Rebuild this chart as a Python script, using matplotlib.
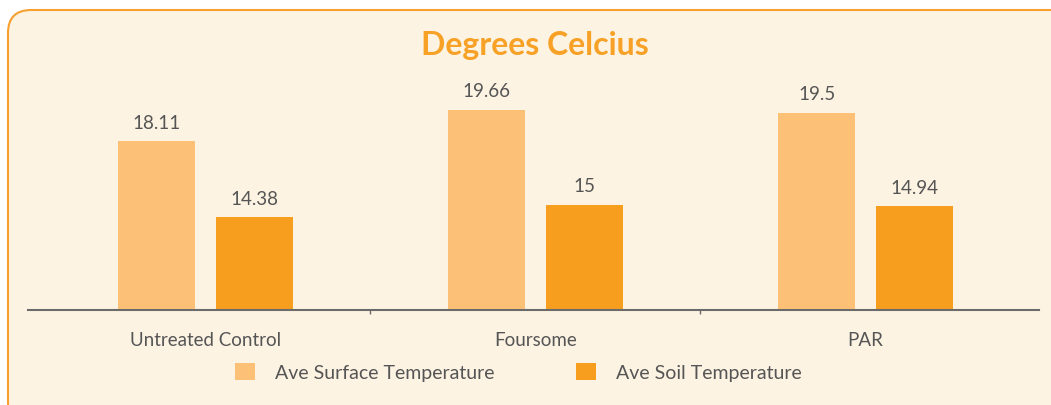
import matplotlib.pyplot as plt
from matplotlib.patches import FancyBboxPatch, Patch
import numpy as np

# data
categories = ['Untreated Control', 'Foursome', 'PAR']
surface = [18.11, 19.66, 19.5]
soil = [14.38, 15, 14.94]
series_names = ['Ave Surface Temperature', 'Ave Soil Temperature']

light = '#fcc177'
dark = '#f79e1e'
bg = '#fdf3e3'
txt = '#555555'

plt.rcParams['font.family'] = ['Lato', 'DejaVu Sans']

fig = plt.figure(figsize=(10.51, 4.06), dpi=100)
fig.patch.set_facecolor('white')

# rounded card behind everything (runs off right/bottom like the screenshot)
W, H = 1051, 406
card = FancyBboxPatch((8 / W, -20 / H), 1.2, (H - 11 + 20) / H,
                      boxstyle='round,pad=0,rounding_size=0.022',
                      transform=fig.transFigure, facecolor=bg,
                      edgecolor='#f7a030', linewidth=1.5, zorder=-5,
                      mutation_aspect=W / H)
fig.patches.append(card)

ax = fig.add_axes([28 / W, 95 / H, 1011 / W, 251 / H])
ax.set_facecolor('none')
ax.set_zorder(2)

x = np.arange(len(categories))
off = 0.148
w = 0.233
b1 = ax.bar(x - off, surface, w, color=light, zorder=2)
b2 = ax.bar(x + off, soil, w, color=dark, zorder=2)

for bars, vals in ((b1, surface), (b2, soil)):
    for r, v in zip(bars, vals):
        ax.annotate(f'{v:g}', (r.get_x() + r.get_width() / 2, r.get_height()),
                    xytext=(0, 7.5), textcoords='offset points',
                    ha='center', va='bottom', fontsize=13.5, color=txt)

ax.set_ylim(9.84, 22.14)
ax.set_xlim(-0.538, 2.526)

for s in ['top', 'right', 'left']:
    ax.spines[s].set_visible(False)
ax.spines['bottom'].set_color('#6b6b6b')
ax.spines['bottom'].set_linewidth(1.5)
ax.set_yticks([])
ax.set_xticks(x)
ax.set_xticklabels(categories, fontsize=13.5, color=txt)
ax.tick_params(axis='x', which='major', length=0, pad=15)
ax.set_xticks([0.5, 1.5], minor=True)
ax.tick_params(axis='x', which='minor', length=3, color='#6b6b6b', width=1)

fig.text(535 / W, 1 - 45 / H, 'Degrees Celcius', ha='center', va='center',
         fontsize=23, fontweight='bold', color='#f7a126')

handles = [Patch(facecolor=light, label=series_names[0]),
           Patch(facecolor=dark, label=series_names[1])]
fig.legend(handles=handles, loc='center', bbox_to_anchor=(518 / W, 1 - 373 / H),
           ncol=2, frameon=False, fontsize=14, handlelength=1.05,
           handleheight=1.0, handletextpad=1.0, columnspacing=4.2,
           labelcolor=txt)

plt.savefig('out.png', dpi=100, facecolor=fig.get_facecolor())
